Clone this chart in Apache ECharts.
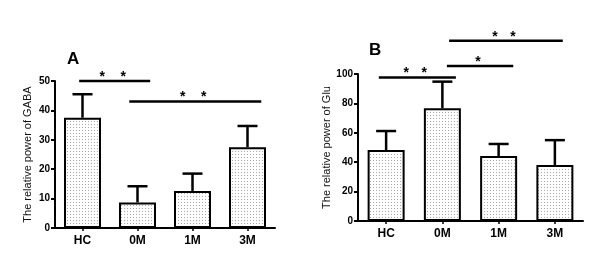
<!DOCTYPE html>
<html>
<head>
<meta charset="utf-8">
<script src="https://cdn.jsdelivr.net/npm/echarts@6/dist/echarts.min.js"></script>
<style>
  html, body { margin: 0; padding: 0; background: #fff; }
  #chart { width: 600px; height: 267px; }
</style>
</head>
<body>
<div id="chart"></div>
<script>
// data
const categories = ['HC', '0M', '1M', '3M']
const gabaMean = [37.5, 8.7, 12.6, 27.5]
const gabaErrTop = [45.5, 14.2, 18.5, 34.7]
const gluMean = [48.3, 76.7, 44.2, 38.1]
const gluErrTop = [61.2, 94.8, 52.4, 55.0]
// significance brackets: [from, to (category position), y value, number of stars]
const gabaSig = [[-0.06, 1.23, 50, 2], [0.85, 3.25, 43, 2]]
const gluSig = [[-0.13, 1.24, 97.7, 2], [1.08, 2.26, 105.4, 1], [1.12, 3.14, 122.6, 2]]

const font = 'Liberation Sans, Arial, sans-serif'

// dotted fill like the original bars
const dots = document.createElement('canvas')
dots.width = 3
dots.height = 3
const ctx = dots.getContext('2d')
ctx.fillStyle = '#fefefe'
ctx.fillRect(0, 0, 3, 3)
ctx.fillStyle = '#a8a8a8'
ctx.fillRect(1, 1, 1, 1)
const dotFill = { image: dots, repeat: 'repeat' }

const chart = echarts.init(document.getElementById('chart'), null, { renderer: 'canvas' })

const yAxisStyle = (name, max, interval, gap) => ({
  type: 'value',
  min: 0,
  max: max,
  interval: interval,
  name: name,
  nameLocation: 'middle',
  nameGap: gap,
  nameTextStyle: { fontFamily: font, fontSize: 11, color: '#111' },
  axisLine: { show: true, onZero: false, lineStyle: { color: '#000', width: 2 } },
  axisTick: { show: true, length: 4, lineStyle: { color: '#000', width: 2 } },
  axisLabel: { fontFamily: font, fontWeight: 'bold', fontSize: 10, color: '#000', margin: 5 },
  splitLine: { show: false }
})

const catAxis = (grid) => ({
  type: 'category',
  gridIndex: grid,
  data: categories,
  axisLine: { onZero: false, lineStyle: { color: '#000', width: 2 } },
  axisTick: { show: true, alignWithLabel: true, length: 3, lineStyle: { color: '#000', width: 1.5 } },
  axisLabel: { fontFamily: font, fontWeight: 'bold', fontSize: 12, color: '#000', margin: 7 }
})

const hiddenAxis = (grid) => ({
  type: 'value', gridIndex: grid, min: -0.5, max: 3.5, show: false
})

const barSeries = (idx, data) => ({
  type: 'bar',
  xAxisIndex: idx,
  yAxisIndex: idx,
  data: data,
  barWidth: 37,
  silent: true,
  itemStyle: { color: dotFill, borderColor: '#000', borderWidth: 2 },
  z: 2
})

const errSeries = (idx, mean, top) => ({
  type: 'custom',
  xAxisIndex: idx,
  yAxisIndex: idx,
  data: mean.map((m, i) => [i, m, top[i]]),
  z: 1,
  renderItem(params, api) {
    const p0 = api.coord([api.value(0), api.value(1)])
    const p1 = api.coord([api.value(0), api.value(2)])
    const style = { stroke: '#000', lineWidth: 2.5 }
    return {
      type: 'group',
      children: [
        { type: 'line', shape: { x1: p0[0], y1: p0[1], x2: p1[0], y2: p1[1] }, style },
        { type: 'line', shape: { x1: p1[0] - 10, y1: p1[1], x2: p1[0] + 10, y2: p1[1] }, style }
      ]
    }
  }
})

const sigSeries = (xIdx, yIdx, sig, gap) => ({
  type: 'custom',
  xAxisIndex: xIdx,
  yAxisIndex: yIdx,
  data: sig,
  clip: false,
  z: 3,
  renderItem(params, api) {
    const a = api.coord([api.value(0), api.value(2)])
    const b = api.coord([api.value(1), api.value(2)])
    const n = api.value(3)
    const mid = (a[0] + b[0]) / 2 - 2
    const children = [
      { type: 'line', shape: { x1: a[0], y1: a[1], x2: b[0], y2: b[1] }, style: { stroke: '#000', lineWidth: 2.5 } }
    ]
    for (let i = 0; i < n; i++) {
      children.push({
        type: 'text',
        style: {
          text: '*',
          x: mid + (i - (n - 1) / 2) * gap,
          y: a[1] - 4,
          align: 'center',
          verticalAlign: 'middle',
          font: 'bold 14px ' + font,
          fill: '#000'
        }
      })
    }
    return { type: 'group', children }
  }
})

const option = {
  animation: false,
  backgroundColor: '#fff',
  title: [
    { text: 'A', left: 62, top: 46, textStyle: { fontFamily: font, fontWeight: 'bold', fontSize: 17, color: '#000' } },
    { text: 'B', left: 364, top: 37, textStyle: { fontFamily: font, fontWeight: 'bold', fontSize: 17, color: '#000' } }
  ],
  grid: [
    { left: 55, right: 325, top: 81, bottom: 39 },
    { left: 358, right: 17, top: 74, bottom: 46 }
  ],
  xAxis: [catAxis(0), catAxis(1), hiddenAxis(0), hiddenAxis(1)],
  yAxis: [
    Object.assign(yAxisStyle('The relative power of GABA', 50, 10, 22), { gridIndex: 0 }),
    Object.assign(yAxisStyle('The relative power of Glu', 100, 20, 23), { gridIndex: 1 })
  ],
  series: [
    errSeries(0, gabaMean, gabaErrTop),
    barSeries(0, gabaMean),
    errSeries(1, gluMean, gluErrTop),
    barSeries(1, gluMean),
    sigSeries(2, 0, gabaSig, 21),
    sigSeries(3, 1, gluSig, 18)
  ]
}

chart.setOption(option)
</script>
</body>
</html>
